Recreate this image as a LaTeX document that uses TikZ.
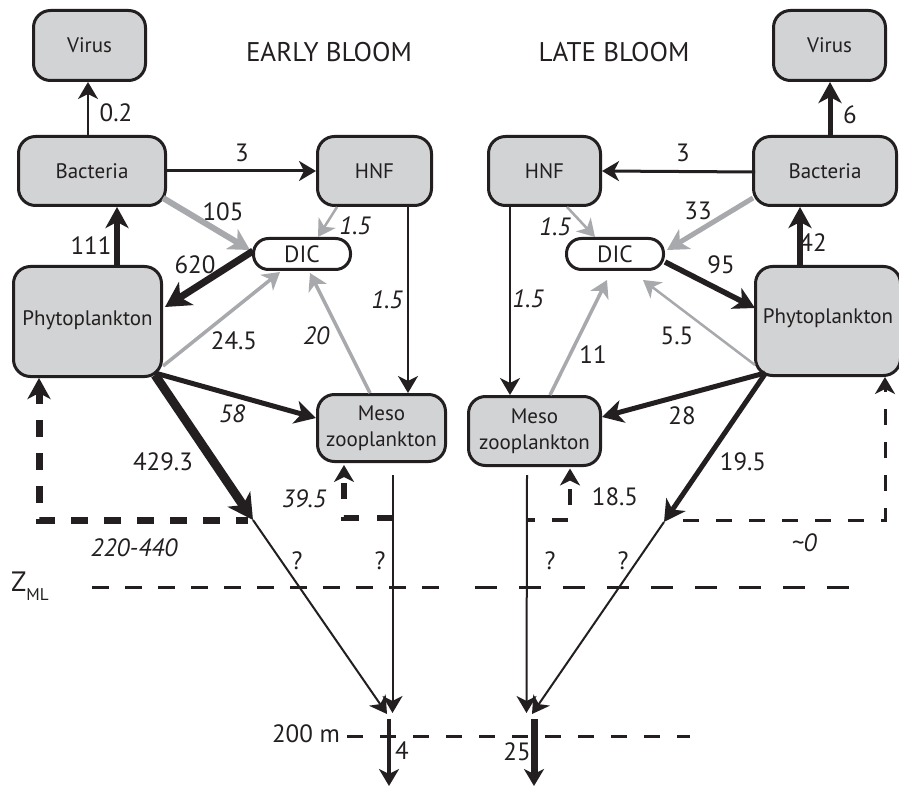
\documentclass[tikz,border=0pt]{standalone}
\usepackage{fontspec}
\setmainfont{PT Sans}
\usetikzlibrary{arrows.meta,calc}
\definecolor{boxfill}{HTML}{D1D3D4}
\definecolor{flowgray}{HTML}{A7A9AC}
\definecolor{ink}{HTML}{231F20}
\newcommand\boxfnt{\fontsize{21}{26}\selectfont}
\newcommand\labfnt{\fontsize{25}{28}\selectfont}
\newcommand\titfnt{\fontsize{27}{30}\selectfont}
\tikzset{
  box/.style={draw=ink, line width=3pt, fill=boxfill, rounded corners=17pt, inner sep=0pt, align=center, font=\boxfnt, text=ink},
  dicbox/.style={draw=ink, line width=3pt, fill=white, rounded corners=15pt, minimum width=97pt, minimum height=31pt, inner sep=0pt, font=\fontsize{23.5}{25}\selectfont, text=ink},
  lab/.style={font=\labfnt, text=ink, inner sep=0pt},
  ilab/.style={font=\labfnt\itshape, text=ink, inner sep=0pt},
  titl/.style={font=\titfnt, text=ink, inner sep=0pt},
  hA/.style={-{Stealth[length=17pt,width=20pt,inset=5pt]}},
  hB/.style={-{Stealth[length=21pt,width=23pt,inset=6pt]}},
  hC/.style={-{Stealth[length=25pt,width=27pt,inset=7pt]}},
}
\begin{document}
\begin{tikzpicture}[x=1pt,y=-1pt]
\useasboundingbox[fill=white] (0,0) rectangle (899,786);

% titles
\node[titl] (tE) at (329,52) {EARLY BLOOM};
\node[titl] (tL) at (614,52) {LATE BLOOM};

% ---------- early bloom nodes
\node[box,minimum width=112pt,minimum height=70pt] (vL) at (89.5,45.5) {Virus};
\node[box,minimum width=147pt,minimum height=69pt] (bL) at (92,171) {Bacteria};
\node[box,minimum width=114pt,minimum height=69pt] (hL) at (374.5,171) {HNF};
\node[dicbox] (dL) at (302,254) {DIC};
\node[box,minimum width=148pt,minimum height=110pt] (pL) at (87.5,321.5) {\raisebox{7pt}{Phytoplankton}};
\node[box,minimum width=128pt,minimum height=67pt] (mL) at (381.5,428) {Meso\\zooplankton};

% ---------- late bloom nodes
\node[box,minimum width=112pt,minimum height=70pt] (vR) at (829.5,45.5) {Virus};
\node[box,minimum width=143pt,minimum height=69pt] (bR) at (825,171) {Bacteria};
\node[box,minimum width=112pt,minimum height=69pt] (hR) at (544.5,171) {HNF};
\node[dicbox] (dR) at (615,254) {DIC};
\node[box,minimum width=145pt,minimum height=109pt] (pR) at (828,321) {\raisebox{9pt}{Phytoplankton}};
\node[box,minimum width=132pt,minimum height=69pt] (mR) at (534.5,431) {Meso\\zooplankton};

% ---------- coordinates
\coordinate (jL) at (253,520);
\coordinate (dL0) at (248,520);
\coordinate (tL1) at (387,714);
\coordinate (tL2) at (392.5,713);
\coordinate (kL) at (392.5,518);
\coordinate (sL) at (389,719);
\coordinate (eL) at (389,786);
\coordinate (jR) at (664,522);
\coordinate (dR0) at (683,520);
\coordinate (tR1) at (526.5,713);
\coordinate (tR2) at (532,714);
\coordinate (kR) at (527,520);
\coordinate (sR) at (534,719);
\coordinate (eR) at (534,786);
\coordinate (z1) at (92,587);
\coordinate (z2) at (439,587);
\coordinate (z3) at (475,587);
\coordinate (z4) at (850,587);
\coordinate (m1) at (347,736);
\coordinate (m2) at (690,736);

% ---------- early bloom arrows
\draw[ink,line width=2pt,hA] ($(bL)+(-4,-36)$) -- ($(vL)+(-1.5,36.5)$);
\draw[ink,line width=3pt,hA] (bL.east) -- (hL.west);
\draw[flowgray,line width=6pt,hB] ($(bL)+(71,27)$) -- ($(dL)+(-52,-4)$);
\draw[flowgray,line width=2.5pt,hA] ($(hL)+(-37.5,36)$) -- ($(dL)+(16,-17)$);
\draw[ink,line width=2pt,hA] ($(hL)+(33.5,36)$) -- ($(mL)+(26.5,-35)$);
\draw[ink,line width=6pt,hB] ($(pL)+(29.5,-56.5)$) -- ($(bL)+(25,36)$);
\draw[ink,line width=7pt,hC] ($(dL)+(-49,-3)$) -- ($(pL)+(77.5,-14.5)$);
\draw[flowgray,line width=3.5pt,hA] ($(pL)+(75.5,44.5)$) -- ($(dL)+(-22,18)$);
\draw[flowgray,line width=3.5pt,hA] ($(mL)+(-11.5,-35)$) -- ($(dL)+(8,19)$);
\draw[ink,line width=5pt,hB] ($(pL)+(67.5,51.5)$) -- ($(mL)+(-65.5,-10)$);
\draw[ink,line width=9pt,hC] ($(pL)+(67.5,53.5)$) -- (jL);
\draw[ink,line width=7pt,dash pattern=on 17pt off 16pt,dash phase=5pt,hB] (dL0) -| ($(pL)+(-48.5,56.5)$);
\draw[ink,line width=2pt,hA] (jL) -- (tL1);
\draw[ink,line width=2pt,hA] ($(mL)+(11,47)$) -- (tL2);
\draw[ink,line width=6pt,dash pattern=on 16pt off 18pt,hA] (kL) -| ($(mL)+(-37.5,37)$);
\draw[ink,line width=4.5pt,hA] (sL) -- (eL);

% ---------- late bloom arrows
\draw[ink,line width=5pt,hB] ($(bR)+(5,-36)$) -- ($(vR)+(0.5,36.5)$);
\draw[ink,line width=3pt,hA] ($(bR)+(-70,1)$) -- (hR.east);
\draw[flowgray,line width=5pt,hB] ($(bR)+(-72,27)$) -- ($(dR)+(52,-4)$);
\draw[flowgray,line width=2.5pt,hA] ($(hR)+(22.5,36)$) -- ($(dR)+(-20,-17)$);
\draw[ink,line width=2pt,hA] ($(hR)+(-34.5,36)$) -- ($(mR)+(-24.5,-36)$);
\draw[ink,line width=6pt,hB] ($(pR)+(-28,-56)$) -- ($(bR)+(-25,36)$);
\draw[ink,line width=5.5pt,hB] ($(dR)+(50,8)$) -- ($(pR)+(-73,-13)$);
\draw[flowgray,line width=2.5pt,hA] ($(pR)+(-73,44)$) -- ($(dR)+(28,26)$);
\draw[flowgray,line width=3.5pt,hA] ($(mR)+(15.5,-36)$) -- ($(dR)+(-8,26)$);
\draw[ink,line width=5pt,hB] ($(pR)+(-63,52)$) -- ($(mR)+(67.5,-14)$);
\draw[ink,line width=5pt,hB] ($(pR)+(-63,53)$) -- (jR);
\draw[ink,line width=3pt,dash pattern=on 16pt off 17pt,hA] (dR0) -| ($(pR)+(57,56)$);
\draw[ink,line width=2pt,hA] ($(mR)+(-7.5,44)$) -- (tR1);
\draw[ink,line width=2pt,hA] (jR) -- (tR2);
\draw[ink,line width=3.5pt,dash pattern=on 16pt off 17pt,dash phase=8pt,hA] (kR) -| ($(mR)+(35.5,37.5)$);
\draw[ink,line width=7pt,hA] (sR) -- (eR);

% ---------- depth lines
\draw[ink,line width=3pt,dash pattern=on 17pt off 16pt] (z1) -- (z2);
\draw[ink,line width=3pt,dash pattern=on 22pt off 22pt] (z3) -- (z4);
\draw[ink,line width=3pt,dash pattern=on 16pt off 17pt] (m1) -- (m2);

% ---------- labels early
\node[lab] (l02) at (116,113) {0.2};
\node[lab] (l3a) at (242,153) {3};
\node[lab] (l105) at (223,212) {105};
\node[ilab] (l15a) at (355,226) {1.5};
\node[ilab] (l15b) at (387,300) {1.5};
\node[lab] (l111) at (91,246) {111};
\node[lab] (l620) at (195,265) {620};
\node[lab] (l245) at (234,341) {24.5};
\node[ilab] (l20) at (316,336) {20};
\node[ilab] (l58) at (232,414) {58};
\node[lab] (l429) at (163,462) {429.3};
\node[ilab] (l220) at (134,548) {220-440};
\node[ilab] (l395) at (304,499) {39.5};
\node[lab] (q1) at (297,561) {?};
\node[lab] (q2) at (380,561) {?};
\node[inner sep=0pt,anchor=west,text=ink] (zml) at (11,586) {\fontsize{28}{30}\selectfont Z\raisebox{-9pt}{\fontsize{17}{20}\selectfont ML}};
\node[lab] (l200) at (306,734) {200 m};
\node[lab] (l4) at (402,751) {4};

% ---------- labels late
\node[lab] (l6) at (850,115) {6};
\node[lab] (l3b) at (683,153) {3};
\node[lab] (l33) at (698,211) {33};
\node[ilab] (l15c) at (555,227) {1.5};
\node[ilab] (l15d) at (528,299) {1.5};
\node[lab] (l42) at (813,243) {42};
\node[lab] (l95) at (721,265) {95};
\node[lab] (l55) at (677,336) {5.5};
\node[lab] (l11) at (593,355) {11};
\node[lab] (l28) at (682,416) {28};
\node[lab] (l195) at (743,462) {19.5};
\node[ilab] (l0) at (804,543) {\char`\~0};
\node[lab] (l185) at (615,497) {18.5};
\node[lab] (q3) at (550,561) {?};
\node[lab] (q4) at (623,561) {?};
\node[lab] (l25) at (517,752) {25};
\end{tikzpicture}
\end{document}
